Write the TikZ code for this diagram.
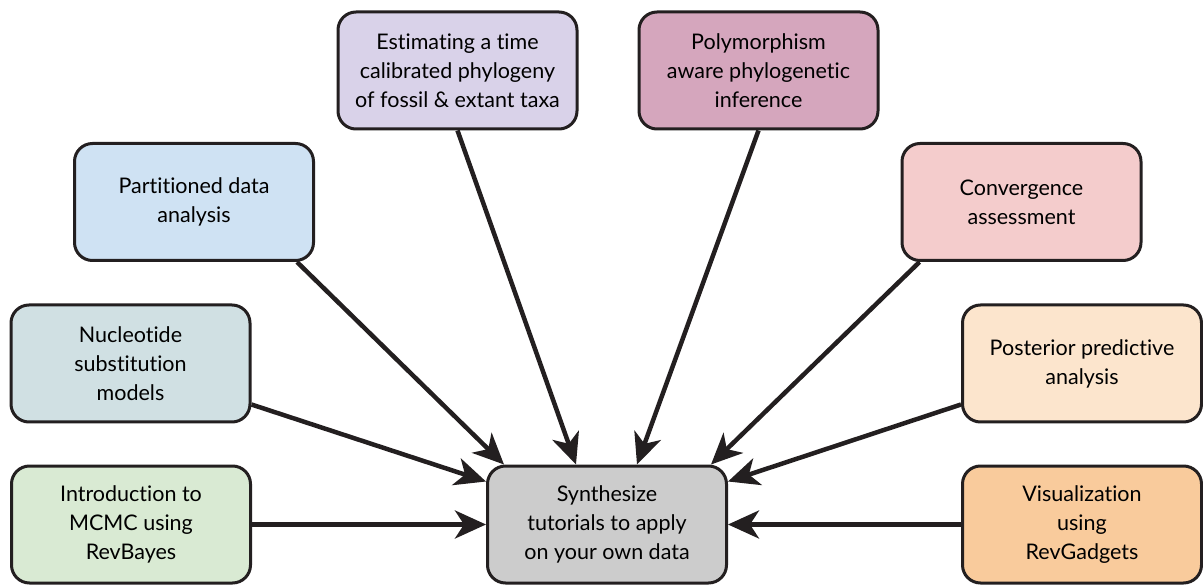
\documentclass[tikz,border=0pt]{standalone}
\usepackage{fontspec}
\setmainfont{Lato}[Ligatures=NoCommon]
\usetikzlibrary{arrows.meta,calc}
\definecolor{edge}{RGB}{35,31,32}
\definecolor{cIntro}{HTML}{D9EAD3}
\definecolor{cNuc}{HTML}{D0E0E3}
\definecolor{cPart}{HTML}{CFE2F3}
\definecolor{cEst}{HTML}{D9D2E9}
\definecolor{cPoly}{HTML}{D5A6BD}
\definecolor{cConv}{HTML}{F4CCCC}
\definecolor{cPost}{HTML}{FCE5CD}
\definecolor{cVis}{HTML}{F9CB9C}
\definecolor{cSyn}{HTML}{CCCCCC}
\tikzset{
  tbox/.style={draw=edge, line width=3pt, rounded corners=18pt, minimum width=239pt,
    minimum height=117pt, inner sep=0pt, align=center, text=black,
    font=\fontsize{21.5pt}{29pt}\selectfont},
  conn/.style={draw=edge, line width=4.5pt,
    -{Stealth[length=31pt,width=28pt,inset=9pt]}}
}
\begin{document}
\begin{tikzpicture}[x=1pt,y=-1pt]
\useasboundingbox (0,0) rectangle (1203,585);
\node[tbox, fill=cIntro] (intro) at (131,524.5) {Introduction to\\MCMC using\\RevBayes};
\node[tbox, fill=cNuc] (nuc) at (130.5,363.5) {Nucleotide\\substitution\\models};
\node[tbox, fill=cPart] (part) at (194,202) {Partitioned data\\analysis};
\node[tbox, fill=cEst] (est) at (457.5,70.5) {Estimating a time\\calibrated phylogeny\\of fossil \& extant taxa};
\node[tbox, fill=cPoly] (poly) at (758.5,70.5) {Polymorphism\\aware phylogenetic\\inference};
\node[tbox, fill=cConv] (conv) at (1021.5,202) {Convergence\\assessment};
\node[tbox, fill=cPost] (post) at (1082,363.5) {Posterior predictive\\analysis};
\node[tbox, fill=cVis] (vis) at (1082,524.5) {Visualization\\using\\RevGadgets};
\node[tbox, fill=cSyn] (syn) at (607,524.5) {Synthesize\\tutorials to apply\\on your own data};

\draw[conn] (intro.east) -- (syn.west);
\draw[conn] ($(nuc.south east)+(0,-19)$) -- ($(syn.north west)+(0,17)$);
\draw[conn] ($(part.south east)+(-18,0)$) -- ($(syn.north west)+(18,0)$);
\draw[conn] (est.south) -- ($(syn.north west)+(90,0)$);
\draw[conn] (poly.south) -- ($(syn.north west)+(151,0)$);
\draw[conn] ($(conv.south west)+(19,0)$) -- ($(syn.north east)+(-17,0)$);
\draw[conn] ($(post.south west)+(0,-19)$) -- ($(syn.north east)+(0,17)$);
\draw[conn] (vis.west) -- (syn.east);
\end{tikzpicture}
\end{document}
